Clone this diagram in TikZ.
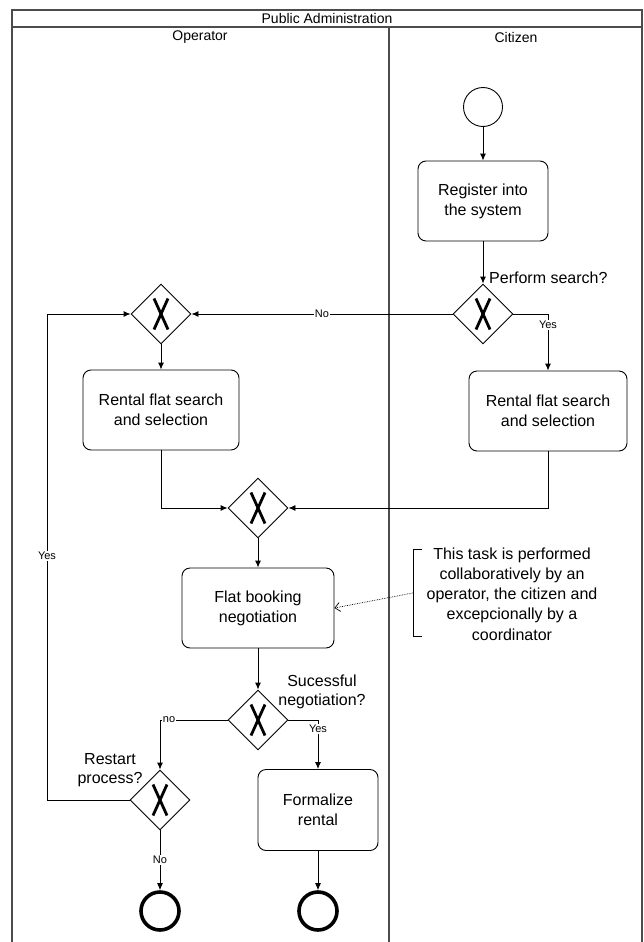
\documentclass[tikz,border=0pt]{standalone}
\usepackage{fontspec}
\setmainfont{Liberation Sans}
\usetikzlibrary{shapes.geometric,arrows.meta}

\tikzset{
  lane/.style={draw=black!70, line width=1.6pt},
  task/.style={draw, line width=0.9pt, rounded corners=8pt, align=center,
    inner sep=0pt, font=\fontsize{16}{20}\selectfont},
  gateway/.style={diamond, draw, line width=0.9pt, inner sep=0pt, aspect=1,
    minimum width=60pt, minimum height=60pt,
    path picture={
      \draw[line width=2.8pt]
        ([xshift=-7pt,yshift=-15.5pt]path picture bounding box.center) --
        ([xshift=7pt,yshift=15.5pt]path picture bounding box.center);
      \draw[line width=2.8pt]
        ([xshift=-7pt,yshift=15.5pt]path picture bounding box.center) --
        ([xshift=7pt,yshift=-15.5pt]path picture bounding box.center);
    }},
  startev/.style={circle, draw, line width=0.9pt, minimum size=39pt, inner sep=0pt},
  endev/.style={circle, draw, line width=3.6pt, minimum size=38pt, inner sep=0pt},
  flow/.style={draw, line width=0.9pt, -{Latex[length=7pt,width=6pt]}},
  assoc/.style={draw, line width=0.7pt, densely dotted, -{Straight Barb[length=5pt,width=9pt]}},
  flowlabel/.style={fill=white, inner sep=1pt, font=\fontsize{11}{13}\selectfont},
  cond/.style={align=center, font=\fontsize{16}{19}\selectfont, inner sep=0pt},
  header/.style={font=\fontsize{14}{16}\selectfont, inner sep=0pt}
}

\begin{document}
\begin{tikzpicture}[x=1pt, y=-1pt]
  \useasboundingbox (0,0) rectangle (643,942);

  % pool and lanes
  \draw[lane] (12,942) -- (12,10) -- (642,10) -- (642,942);
  \draw[lane] (12,27) -- (642,27);
  \draw[lane] (389,27) -- (389,942);
  \node[header] (pool) at (327,18.5) {Public Administration};
  \node[header] (opl)  at (200,37.5) {Operator};
  \node[header] (cil)  at (516,37.5) {Citizen};

  % citizen lane
  \node[startev] (start) at (483,107) {};
  \node[task, minimum width=130pt, minimum height=80pt] (reg) at (483,201)
    {Register into\\the system};
  \node[gateway] (gwc) at (483,314) {};
  \node[cond, anchor=west] (gwclbl) at (489,278) {Perform search?};
  \node[task, minimum width=158pt, minimum height=80pt] (rc) at (548,411)
    {Rental flat search\\and selection};

  % operator lane
  \node[gateway] (gwo) at (161,314) {};
  \node[task, minimum width=156pt, minimum height=80pt] (ro) at (161,410)
    {Rental flat search\\and selection};
  \node[gateway] (mg) at (258,508) {};
  \node[task, minimum width=152pt, minimum height=80pt] (fb) at (258,608)
    {Flat booking\\negotiation};
  \node[gateway] (gws) at (258,720) {};
  \node[cond] (gwslbl) at (322,692) {Sucessful\\negotiation?};
  \node[gateway] (gwr) at (160,800) {};
  \node[cond] (gwrlbl) at (110,770) {Restart\\process?};
  \node[task, minimum width=120pt, minimum height=81pt] (fr) at (318,810)
    {Formalize\\rental};
  \node[endev] (end1) at (160,911) {};
  \node[endev] (end2) at (318,911) {};
  \coordinate (loop) at (47,800);

  % annotation
  \node[align=center, font=\fontsize{16}{20.2}\selectfont, inner sep=0pt] (ann)
    at (512,594) {This task is performed\\collaboratively by an\\operator, the citizen and\\excepcionally by a\\coordinator};
  \coordinate (brk) at (413,593);
  \draw[line width=0.9pt] (422,549) -- (413,549) -- (413,636) -- (422,636);

  % sequence flows
  \draw[flow] (start) -- (reg);
  \draw[flow] (reg) -- (gwc);
  \draw[flow] (gwc.east) -| (rc.north);
  \draw[flow] (gwc.west) -- (gwo.east);
  \draw[flow] (gwo) -- (ro);
  \draw[flow] (ro.south) |- (mg.west);
  \draw[flow] (rc.south) |- (mg.east);
  \draw[flow] (mg) -- (fb);
  \draw[flow] (fb) -- (gws);
  \draw[flow] (gws.west) -| (gwr.north);
  \draw[flow] (gws.east) -| (fr.north);
  \draw[flow] (gwr.west) -- (loop) |- (gwo.west);
  \draw[flow] (gwr) -- (end1);
  \draw[flow] (fr) -- (end2);
  \draw[assoc] (brk) -- (fb.east);

  % flow labels
  \node[flowlabel] (l1) at (548,325) {Yes};
  \node[flowlabel] (l2) at (322,314) {No};
  \node[flowlabel] (l3) at (169,720) {no};
  \node[flowlabel] (l4) at (318,729) {Yes};
  \node[flowlabel] (l5) at (47,556) {Yes};
  \node[flowlabel] (l6) at (160,860) {No};
\end{tikzpicture}
\end{document}
